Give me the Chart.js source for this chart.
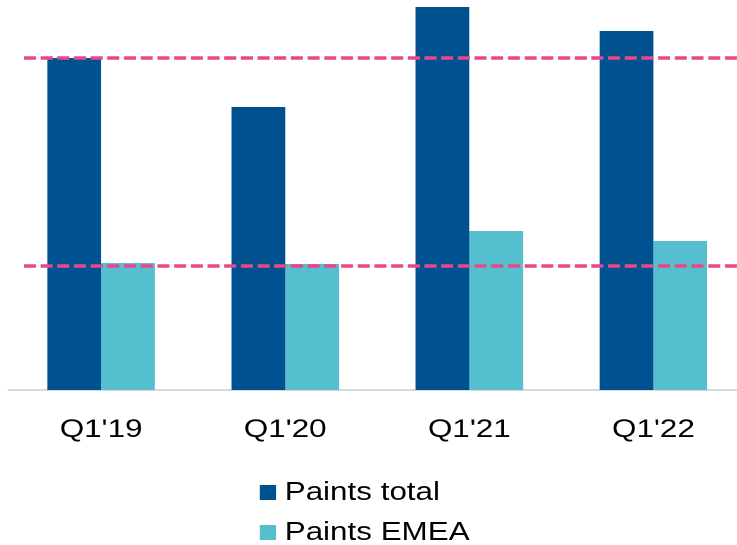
<!DOCTYPE html>
<html>
<head>
<meta charset="utf-8">
<script src="https://cdn.jsdelivr.net/npm/chart.js@4/dist/chart.umd.min.js"></script>
<style>
  html, body { margin: 0; padding: 0; background: #fff; overflow: hidden; }
  #wrap {
    position: relative;
    width: 594px;
    height: 545px;
    transform: scaleX(1.255);
    transform-origin: 0 0;
  }
  #legend {
    position: absolute;
    left: 207px;
    top: 471px;
    font: 25px "Liberation Sans", Arial, sans-serif;
    color: #000;
  }
  #legend div { height: 40px; line-height: 40px; white-space: nowrap; }
  #legend span.box {
    display: inline-block;
    width: 12.5px;
    height: 15px;
    margin-right: 7.4px;
  }
</style>
</head>
<body>
<div id="wrap">
  <canvas id="chart" width="594" height="460"></canvas>
  <div id="legend"></div>
</div>
<script>
'use strict';

const quarters   = ["Q1'19", "Q1'20", "Q1'21", "Q1'22"];
const paintsTotal = [3.32, 2.83, 3.83, 3.59];
const paintsEmea  = [1.27, 1.26, 1.59, 1.49];
const refLevels   = [3.32, 1.24];

const DARK  = '#00518f';
const LIGHT = '#56bfcf';
const PINK  = '#e8488a';

// dashed horizontal reference lines across the plot
const refLinePlugin = {
  id: 'refLines',
  afterDatasetsDraw(chart) {
    const ctx = chart.ctx;
    const y = chart.scales.y;
    const area = chart.chartArea;
    ctx.save();
    ctx.strokeStyle = PINK;
    ctx.lineWidth = 3.5;
    ctx.setLineDash([9.6, 3.7]);
    for (const v of refLevels) {
      const py = y.getPixelForValue(v);
      ctx.beginPath();
      ctx.moveTo(19, py);
      ctx.lineTo(area.right, py);
      ctx.stroke();
    }
    ctx.restore();
  }
};

// legend as a plain html list, one entry per line
const htmlLegend = {
  id: 'htmlLegend',
  afterUpdate(chart) {
    const box = document.querySelector('#legend');
    box.innerHTML = '';
    const items = chart.options.plugins.legend.labels.generateLabels(chart);
    for (const item of items) {
      const row = document.createElement('div');
      const swatch = document.createElement('span');
      swatch.className = 'box';
      swatch.style.background = item.fillStyle;
      row.appendChild(swatch);
      row.appendChild(document.createTextNode(item.text));
      box.appendChild(row);
    }
  }
};

const config = {
  type: 'bar',
  data: {
    labels: quarters,
    datasets: [{
      label: 'Paints total',
      data: paintsTotal,
      backgroundColor: DARK
    }, {
      label: 'Paints EMEA',
      data: paintsEmea,
      backgroundColor: LIGHT
    }]
  },
  options: {
    responsive: false,
    devicePixelRatio: 2,
    animation: false,
    layout: { padding: { left: 7.2, right: 0, top: 0, bottom: 0 } },
    datasets: {
      bar: { categoryPercentage: 0.584, barPercentage: 1, borderWidth: 0 }
    },
    scales: {
      x: {
        grid: { display: false, drawTicks: false },
        border: { display: true, color: '#d9d9d9', width: 2 },
        ticks: {
          color: '#000',
          padding: 25,
          maxRotation: 0,
          font: { family: '"Liberation Sans", Arial, sans-serif', size: 25 }
        },
        afterFit: scale => { scale.height = 70; }
      },
      y: {
        display: false,
        min: 0,
        max: 3.9
      }
    },
    plugins: {
      legend: { display: false },
      tooltip: { enabled: false }
    }
  },
  plugins: [refLinePlugin, htmlLegend]
};

new Chart(document.querySelector('#chart').getContext('2d'), config);
</script>
</body>
</html>
